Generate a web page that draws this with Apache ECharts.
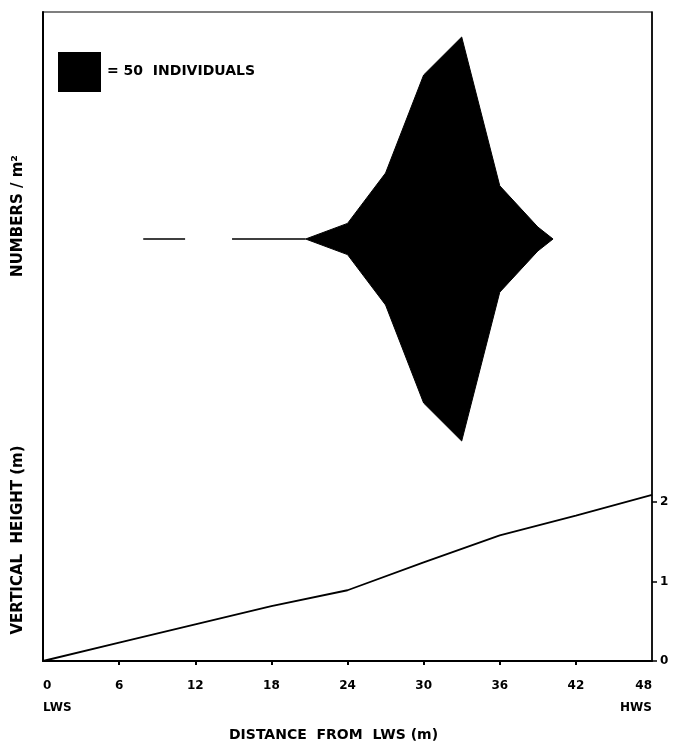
<!DOCTYPE html>
<html>
<head>
<meta charset="utf-8">
<script src="https://cdn.jsdelivr.net/npm/echarts@6/dist/echarts.min.js"></script>
<style>
  html, body { margin: 0; padding: 0; background: #fff; }
  #chart { width: 680px; height: 744px; }
</style>
</head>
<body>
<div id="chart"></div>
<script>
// distance from LWS (m) where the kite was sampled
var kiteDistance = [20.7, 24, 27, 30, 33, 36, 39, 40.2]
// numbers per m2 (full kite width)
var kiteNumbers = [0, 39, 165, 410, 505, 133, 30, 0]
// stretches where the species was present at very low numbers (drawn as a thin line)
var presenceFrom = [7.9, 14.9]
var presenceTo = [11.2, 20.7]
// beach profile
var profileDistance = [0, 6, 12, 18, 24, 30, 36, 42, 48]
var profileHeight = [0, 0.23, 0.46, 0.69, 0.89, 1.24, 1.58, 1.83, 2.09]
var xTicks = [0, 6, 12, 18, 24, 30, 36, 42, 48]
var heightTicks = [0, 1, 2]

var chart = echarts.init(document.getElementById('chart'))
var font = 'DejaVu Sans'

var upper = []
var lower = []
for (var i = 0; i < kiteDistance.length; i++) {
  upper.push([kiteDistance[i], kiteNumbers[i] / 2])
  lower.push([kiteDistance[i], -kiteNumbers[i] / 2])
}
var presence = []
for (var j = 0; j < presenceFrom.length; j++) {
  if (j > 0) presence.push([(presenceTo[j - 1] + presenceFrom[j]) / 2, '-'])
  presence.push([presenceFrom[j], 0])
  presence.push([presenceTo[j], 0])
}
var profile = profileDistance.map(function (d, k) { return [d, profileHeight[k]] })

var option = {
  animation: false,
  backgroundColor: '#fff',
  grid: {
    left: 43, right: 28, top: 12, bottom: 83,
    outerBoundsMode: 'none', containLabel: false,
    show: true, borderColor: '#000', borderWidth: 1.2
  },
  xAxis: {
    type: 'value', min: 0, max: 48, interval: 6,
    axisLine: { onZero: false, lineStyle: { color: '#000', width: 2 } },
    axisTick: { show: true, length: 4, lineStyle: { color: '#000', width: 2 }, customValues: xTicks.slice(1, -1) },
    splitLine: { show: false },
    axisLabel: {
      color: '#000', fontFamily: font, fontWeight: 'bold', fontSize: 12, margin: 14,
      lineHeight: 22, alignMinLabel: 'left', alignMaxLabel: 'right',
      customValues: xTicks,
      formatter: function (v) {
        if (v === 0) return '0\nLWS'
        if (v === 48) return '48\nHWS'
        return String(v)
      }
    },
    name: 'DISTANCE  FROM  LWS (m)', nameLocation: 'middle', nameGap: 67,
    nameTextStyle: { color: '#000', fontFamily: font, fontWeight: 'bold', fontSize: 14, padding: [0, 28, 0, 0] }
  },
  yAxis: [
    {
      type: 'value', min: -527.5, max: 283.75, position: 'left',
      axisLine: { show: true, onZero: false, lineStyle: { color: '#000', width: 2 } },
      axisTick: { show: false }, axisLabel: { show: false }, splitLine: { show: false }
    },
    {
      type: 'value', min: 0, max: 8.164, position: 'right',
      axisLine: { show: true, onZero: false, lineStyle: { color: '#000', width: 1.5 } },
      axisTick: { show: true, length: 5, lineStyle: { color: '#000', width: 1.5 }, customValues: heightTicks },
      axisLabel: { color: '#000', fontFamily: font, fontWeight: 'bold', fontSize: 12, margin: 8, customValues: heightTicks },
      splitLine: { show: false }
    }
  ],
  graphic: [
    { type: 'rect', left: 58, top: 52, shape: { width: 43, height: 40 }, style: { fill: '#000' } },
    { type: 'text', left: 107, top: 64, style: { text: '= 50  INDIVIDUALS', fill: '#000', font: 'bold 14px "DejaVu Sans"' } },
    { type: 'text', x: 18, y: 216, rotation: Math.PI / 2, style: { text: 'NUMBERS / m²', fill: '#000', font: 'bold 15px "DejaVu Sans"', align: 'center', verticalAlign: 'middle' } },
    { type: 'text', x: 18, y: 540, rotation: Math.PI / 2, style: { text: 'VERTICAL  HEIGHT (m)', fill: '#000', font: 'bold 15px "DejaVu Sans"', align: 'center', verticalAlign: 'middle' } }
  ],
  series: [
    {
      type: 'line', yAxisIndex: 0, data: upper, symbol: 'none',
      lineStyle: { color: '#000', width: 1 }, areaStyle: { color: '#000', opacity: 1 }
    },
    {
      type: 'line', yAxisIndex: 0, data: lower, symbol: 'none',
      lineStyle: { color: '#000', width: 1 }, areaStyle: { color: '#000', opacity: 1 }
    },
    {
      type: 'line', yAxisIndex: 0, data: presence, symbol: 'none', connectNulls: false,
      lineStyle: { color: '#000', width: 1.5 }
    },
    {
      type: 'line', yAxisIndex: 1, data: profile, symbol: 'none',
      lineStyle: { color: '#000', width: 1.8 }
    }
  ]
}
chart.setOption(option)
</script>
</body>
</html>
